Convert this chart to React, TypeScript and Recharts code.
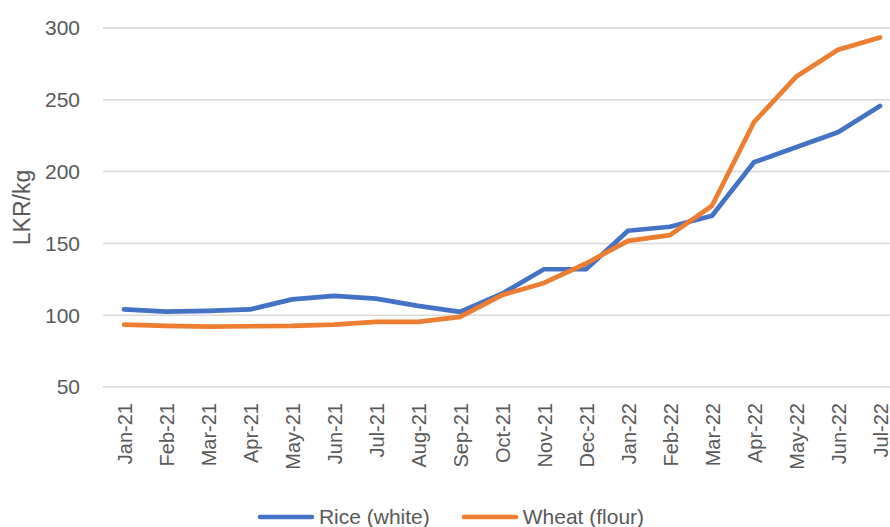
import { LineChart, Line, XAxis, YAxis, CartesianGrid, Legend } from "recharts";

const months = [
  "Jan-21", "Feb-21", "Mar-21", "Apr-21", "May-21", "Jun-21", "Jul-21", "Aug-21", "Sep-21",
  "Oct-21", "Nov-21", "Dec-21", "Jan-22", "Feb-22", "Mar-22", "Apr-22", "May-22", "Jun-22", "Jul-22",
];
const rice = [104, 102.5, 103, 104, 111, 113.5, 111.5, 106.5, 102.3, 115, 132, 132, 158.8, 161.6, 169.3, 206.5, 217, 227.4, 245.7];
const wheat = [93.5, 92.5, 92, 92.3, 92.5, 93.5, 95.3, 95.3, 98.8, 114, 122.5, 136, 151.8, 155.8, 176.2, 234.4, 266, 284.8, 293.4];
const yTicks = [50, 100, 150, 200, 250, 300];

const data = months.map((m, i) => ({ month: m, rice: rice[i], wheat: wheat[i] }));

const INK = "#595959";
const BLUE = "#4472C4";
const ORANGE = "#ED7D31";
const FONT = "'Liberation Sans', Arial, sans-serif";

const RotatedTick = ({ x, y, payload }: any) => (
  <g transform={`translate(${x + 1},${y})`}>
    <text transform="rotate(-90)" textAnchor="end" dominantBaseline="central" fill={INK} fontSize={20} fontFamily={FONT}>
      {payload.value}
    </text>
  </g>
);

const YLabel = ({ viewBox }: any) => (
  <text
    transform={`translate(${viewBox.x + 22},${viewBox.y + viewBox.height / 2}) rotate(-90)`}
    textAnchor="middle"
    dominantBaseline="central"
    fill={INK}
    fontSize={23}
    fontFamily={FONT}
  >
    LKR/kg
  </text>
);

const series = [
  { key: "rice", name: "Rice (white)", color: BLUE },
  { key: "wheat", name: "Wheat (flour)", color: ORANGE },
];

const LegendBox = () => (
  <div style={{ height: 20, display: "flex", justifyContent: "center", alignItems: "center", gap: 31, fontFamily: FONT, fontSize: 21, color: INK }}>
    {series.map((s) => (
      <div key={s.key} style={{ display: "flex", alignItems: "center", gap: 4 }}>
        <svg width={58} height={8}>
          <line x1={3} y1={4} x2={55} y2={4} stroke={s.color} strokeWidth={4.5} strokeLinecap="round" />
        </svg>
        <span style={{ lineHeight: "20px" }}>{s.name}</span>
      </div>
    ))}
  </div>
);

export default function App() {
  return (
    <div style={{ position: "absolute", left: 0, top: 0, width: 890, height: 527, overflow: "hidden", background: "#fff" }}>
      <LineChart width={901} height={527} data={data} margin={{ top: 28, right: 0, left: 0, bottom: 0 }}>
        <CartesianGrid horizontal vertical={false} stroke="#D9D9D9" strokeWidth={1.5} />
        <XAxis
          dataKey="month"
          interval={0}
          axisLine={false}
          tickLine={false}
          tickSize={0}
          tickMargin={16}
          height={120}
          padding={{ left: 21, right: 21 }}
          tick={<RotatedTick />}
        />
        <YAxis
          domain={[50, 300]}
          ticks={yTicks}
          width={103}
          axisLine={false}
          tickLine={false}
          tickSize={0}
          tickMargin={23}
          tick={{ fill: INK, fontSize: 21, fontFamily: FONT }}
          label={<YLabel />}
        />
        <Legend verticalAlign="bottom" content={<LegendBox />} />
        {series.map((s) => (
          <Line
            key={s.key}
            dataKey={s.key}
            name={s.name}
            type="linear"
            stroke={s.color}
            strokeWidth={4.7}
            strokeLinecap="round"
            strokeLinejoin="round"
            dot={false}
            activeDot={false}
            isAnimationActive={false}
          />
        ))}
      </LineChart>
    </div>
  );
}
